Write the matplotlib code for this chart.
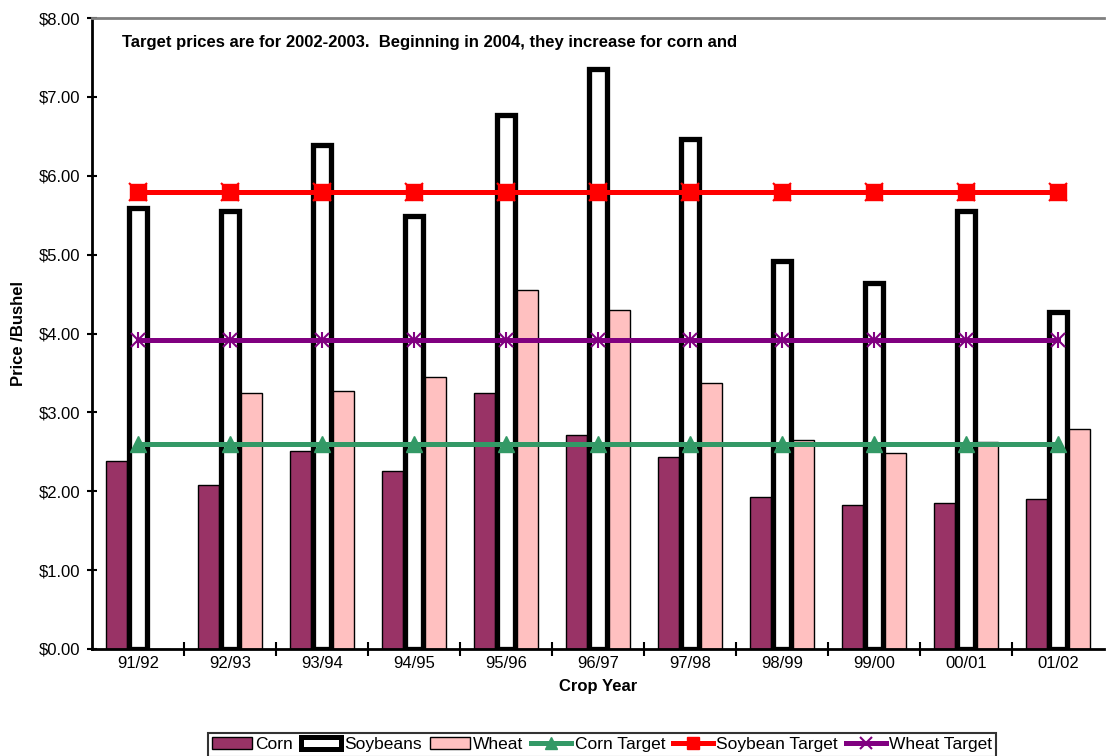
import matplotlib.pyplot as plt
import numpy as np
from matplotlib.patches import Patch
from matplotlib.lines import Line2D
from matplotlib.ticker import FixedLocator

plt.rcParams['font.family'] = ['Liberation Sans', 'DejaVu Sans']

years = ['91/92', '92/93', '93/94', '94/95', '95/96', '96/97',
         '97/98', '98/99', '99/00', '00/01', '01/02']
corn = [2.38, 2.08, 2.51, 2.26, 3.24, 2.71, 2.43, 1.93, 1.82, 1.85, 1.90]
soybeans = [5.59, 5.55, 6.39, 5.49, 6.77, 7.35, 6.46, 4.92, 4.64, 5.55, 4.27]
wheat = [0.00, 3.24, 3.27, 3.45, 4.55, 4.30, 3.37, 2.65, 2.48, 2.62, 2.79]
corn_target = [2.60] * 11
soy_target = [5.80] * 11
wheat_target = [3.92] * 11

note = 'Target prices are for 2002-2003.  Beginning in 2004, they increase for corn and'


def main():
    fig = plt.figure(figsize=(11.07, 7.56), dpi=100)
    ax = fig.add_axes([92 / 1107, 107 / 756, 1012 / 1107, 631 / 756])

    x = np.arange(len(years))
    w = 0.235
    ax.bar(x - w, corn, w, color='#993366', edgecolor='black', linewidth=1, zorder=2)
    ax.bar(x, soybeans, w * 0.85, color='white', edgecolor='black', linewidth=3.8, zorder=2)
    ax.bar(x + w, wheat, w, color='#FFC0C0', edgecolor='black', linewidth=1, zorder=2)

    ax.plot(x, corn_target, color='#339966', lw=3.6, marker='^', ms=12, zorder=3)
    ax.plot(x, soy_target, color='#FF0000', lw=3.6, marker='s', ms=11, zorder=3)
    ax.plot(x, soy_target, color='#FF0000', lw=0, marker='x', ms=13, mew=1.5, zorder=3)
    ax.plot(x, wheat_target, color='#800080', lw=3.6, marker='x', ms=10, mew=1.5, zorder=3)
    ax.plot(x, wheat_target, color='#800080', lw=0, marker='|', ms=12, mew=1.5, zorder=3)

    ax.set_xlim(-0.5, len(years) - 0.5)
    ax.set_ylim(0, 8)
    ax.set_yticks(np.arange(0, 9, 1))
    ax.set_yticklabels(['$%.2f' % v for v in range(9)], fontsize=12)
    ax.set_xticks(x)
    ax.set_xticklabels(years, fontsize=12)
    ax.tick_params(axis='x', length=0, pad=5)
    ax.xaxis.set_minor_locator(FixedLocator(np.arange(0.5, len(years) - 0.5, 1)))
    ax.tick_params(axis='x', which='minor', direction='inout', length=10, width=1.5)
    ax.tick_params(axis='y', length=7, width=1.5, direction='inout', pad=5)

    ax.spines['top'].set_color('#808080')
    ax.spines['top'].set_linewidth(2)
    ax.spines['right'].set_visible(False)
    ax.spines['left'].set_linewidth(2)
    ax.spines['bottom'].set_linewidth(2)

    ax.set_xlabel('Crop Year', fontsize=12, fontweight='bold', labelpad=6)
    ax.set_ylabel('Price /Bushel', fontsize=12, fontweight='bold', labelpad=9)
    ax.text(122 / 1107, 1 - 43 / 756, note, transform=fig.transFigure, fontsize=12,
            fontweight='bold', va='center', ha='left')

    handles = [
        Patch(facecolor='#993366', edgecolor='black', linewidth=1),
        Patch(facecolor='white', edgecolor='black', linewidth=3.6),
        Patch(facecolor='#FFC0C0', edgecolor='black', linewidth=1),
        Line2D([], [], color='#339966', lw=3.6, marker='^', ms=9),
        Line2D([], [], color='#FF0000', lw=3.6, marker='s', ms=9),
        Line2D([], [], color='#800080', lw=3.6, marker='x', ms=9, mew=1.5),
    ]
    labels = ['Corn', 'Soybeans', 'Wheat', 'Corn Target', 'Soybean Target', 'Wheat Target']
    leg = fig.legend(handles, labels, loc='upper center', ncol=6,
                     bbox_to_anchor=(602 / 1107, 1 - 733 / 756), fontsize=12.5,
                     frameon=True, fancybox=False, edgecolor='black',
                     handlelength=2.3, handletextpad=0.2, columnspacing=0.45,
                     borderpad=0.25, borderaxespad=0)
    leg.get_frame().set_linewidth(1.5)

    fig.savefig('out.png', dpi=100)


if __name__ == '__main__':
    main()
